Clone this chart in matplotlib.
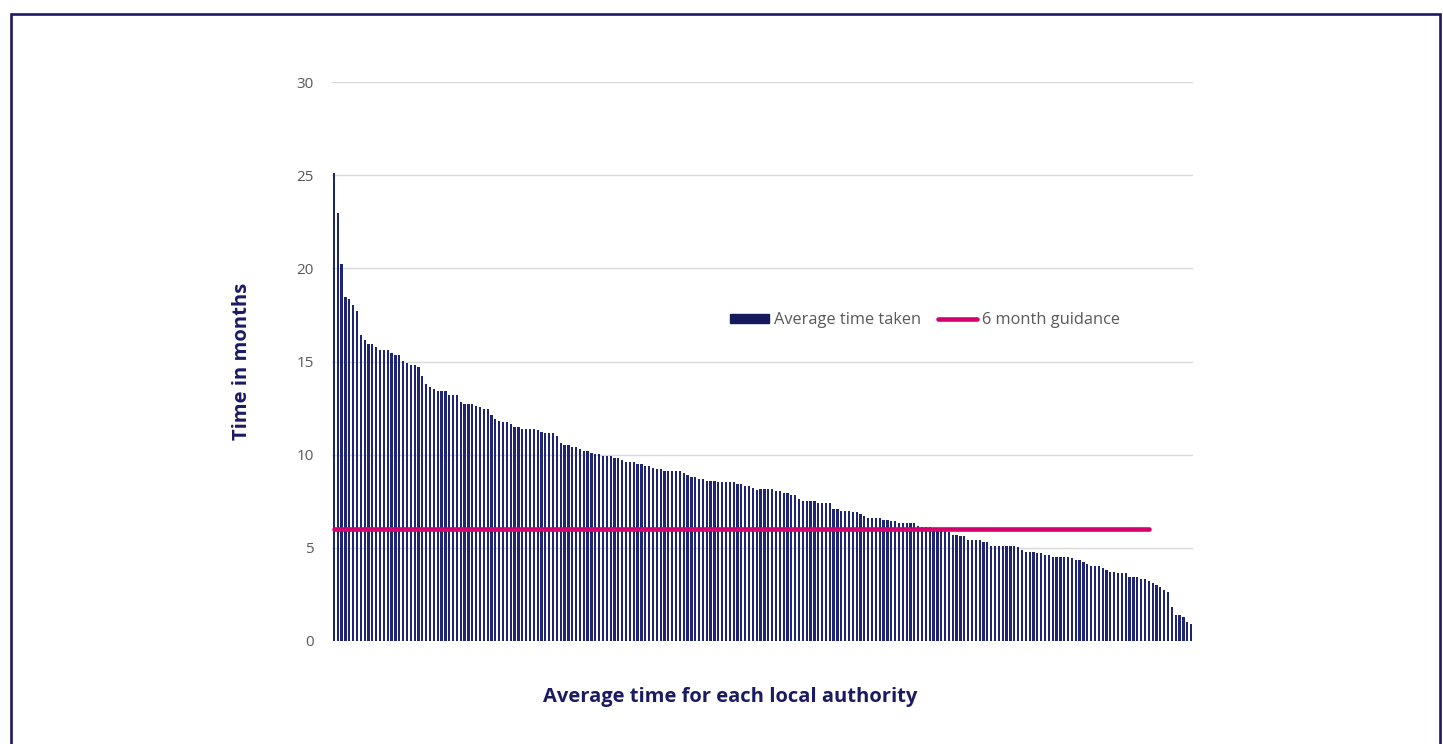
import matplotlib
matplotlib.use("Agg")
import matplotlib.pyplot as plt
import matplotlib.patches as patches
from matplotlib.lines import Line2D
import numpy as np

# average months taken, one value per local authority (sorted)
avg_time = [
    25.1, 22.96, 20.24, 18.45, 18.34, 18.04, 17.73, 16.43, 16.14, 15.92,
    15.92, 15.80, 15.60, 15.60, 15.60, 15.44, 15.33, 15.33, 15.01, 14.92,
    14.83, 14.83, 14.71, 14.22, 13.80, 13.62, 13.53, 13.44, 13.44, 13.44,
    13.20, 13.20, 13.20, 12.81, 12.72, 12.72, 12.72, 12.61, 12.54, 12.43,
    12.43, 12.13, 11.93, 11.83, 11.74, 11.74, 11.63, 11.50, 11.50, 11.40,
    11.40, 11.40, 11.40, 11.31, 11.20, 11.15, 11.15, 11.15, 11.02, 10.61,
    10.50, 10.50, 10.41, 10.41, 10.31, 10.20, 10.20, 10.11, 10.02, 10.02,
    9.93, 9.93, 9.93, 9.82, 9.82, 9.70, 9.61, 9.61, 9.61, 9.52,
    9.52, 9.41, 9.41, 9.30, 9.21, 9.21, 9.13, 9.13, 9.13, 9.13,
    9.13, 9.00, 8.89, 8.80, 8.80, 8.71, 8.71, 8.61, 8.61, 8.61,
    8.52, 8.52, 8.52, 8.52, 8.52, 8.41, 8.41, 8.32, 8.32, 8.21,
    8.12, 8.14, 8.14, 8.14, 8.14, 8.03, 8.03, 7.93, 7.93, 7.82,
    7.82, 7.60, 7.51, 7.51, 7.51, 7.51, 7.43, 7.43, 7.43, 7.43,
    7.10, 7.10, 7.00, 7.00, 7.00, 6.91, 6.91, 6.80, 6.71, 6.62,
    6.62, 6.62, 6.62, 6.51, 6.51, 6.42, 6.42, 6.32, 6.32, 6.32,
    6.32, 6.32, 6.19, 6.10, 6.10, 6.10, 6.00, 6.00, 5.95, 5.90,
    5.85, 5.71, 5.71, 5.62, 5.62, 5.42, 5.42, 5.42, 5.42, 5.33,
    5.33, 5.12, 5.12, 5.12, 5.12, 5.12, 5.12, 5.12, 5.03, 4.88,
    4.79, 4.79, 4.79, 4.71, 4.71, 4.62, 4.62, 4.53, 4.53, 4.53,
    4.53, 4.53, 4.44, 4.33, 4.33, 4.22, 4.11, 4.03, 4.03, 4.03,
    3.90, 3.81, 3.72, 3.72, 3.63, 3.63, 3.63, 3.42, 3.42, 3.42,
    3.33, 3.33, 3.22, 3.13, 3.02, 2.92, 2.74, 2.63, 1.81, 1.40,
    1.40, 1.29, 1.02, 0.89,
]
guidance_months = 6
guidance_points = 213      # the guidance line stops short of the last authorities
y_ticks = [0, 5, 10, 15, 20, 25, 30]

navy = "#1f2573"
pink = "#d4006e"
label_navy = "#1b1a63"
grey = "#595959"

plt.rcParams["font.family"] = ["Open Sans", "DejaVu Sans"]

fig = plt.figure(figsize=(14.43, 7.44), dpi=100)
ax = fig.add_axes([332 / 1443, 103 / 744, 861 / 1443, 559 / 744])

x = np.arange(len(avg_time))
ax.bar(x, avg_time, width=0.58, color=navy, zorder=2)
gx = np.arange(guidance_points)
ax.plot(gx, [guidance_months] * guidance_points, color=pink, lw=3.3,
        solid_capstyle="round", zorder=3)

ax.set_xlim(-0.5, len(avg_time) - 0.5)
ax.set_ylim(0, 30)
ax.set_yticks(y_ticks)
ax.set_xticks([])
ax.grid(axis="y", color="#d9d9d9", lw=1, zorder=0)
for s in ax.spines.values():
    s.set_visible(False)
ax.tick_params(axis="y", length=0, pad=13, labelsize=11, labelcolor=grey)

handles = [patches.Rectangle((0, 0), 1, 1, color="#141a5c"),
           Line2D([], [], color=pink, lw=3.3, solid_capstyle="round")]
fig.legend(handles, ["Average time taken", "6 month guidance"],
           loc="center", bbox_to_anchor=(925 / 1443, 1 - 320 / 744),
           ncol=2, frameon=False, fontsize=11.8, labelcolor=grey,
           handlelength=2.4, handleheight=0.5, handletextpad=0.3,
           columnspacing=1.0)

fig.text(242 / 1443, 1 - 361 / 744, "Time in months", rotation=90,
         ha="center", va="center", fontsize=14.5, fontweight="bold",
         color=label_navy)
fig.text(730 / 1443, 1 - 697 / 744, "Average time for each local authority",
         ha="center", va="center", fontsize=14.5, fontweight="bold",
         color=label_navy)

# outer frame around the figure
fig.patches.append(patches.Rectangle((11 / 1443, -0.05), 1429 / 1443,
                                     1.05 - 14 / 744, transform=fig.transFigure,
                                     fill=False, edgecolor=label_navy, lw=1.9))

fig.savefig("out.png", dpi=100)
